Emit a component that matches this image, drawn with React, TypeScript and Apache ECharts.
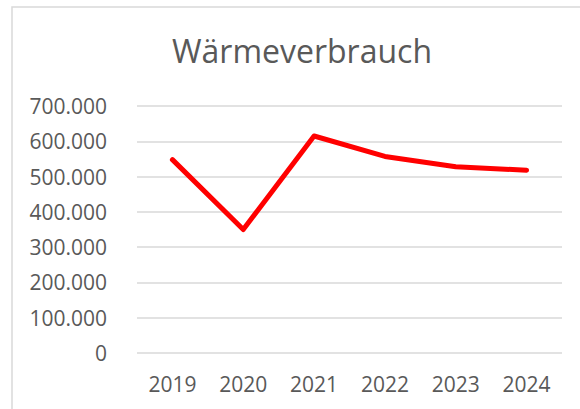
import React, { useEffect, useRef } from "react";
import * as echarts from "echarts";

const titleText = "Wärmeverbrauch";
const years = ["2019", "2020", "2021", "2022", "2023", "2024"];
const heatValues = [548000, 350000, 615000, 557000, 528000, 518000];

const fmt = (v: number) => String(Math.round(v)).replace(/\B(?=(\d{3})+(?!\d))/g, ".");

export default function App() {
  const ref = useRef<HTMLDivElement>(null);
  useEffect(() => {
    if (!ref.current) return;
    const chart = echarts.init(ref.current, null, { renderer: "svg" });
    chart.setOption({
      animation: false,
      backgroundColor: "#ffffff",
      textStyle: { fontFamily: "Open Sans" },
      graphic: [
        {
          type: "rect",
          shape: { x: 12, y: 7, width: 620, height: 430 },
          style: { fill: "none", stroke: "#d9d9d9", lineWidth: 1.5 },
          silent: true,
        },
        {
          type: "text",
          x: 302,
          y: 50,
          silent: true,
          style: {
            text: titleText,
            align: "center",
            verticalAlign: "middle",
            fontFamily: "Open Sans",
            fontSize: 32,
            fill: "#595959",
          },
        },
      ],
      grid: { left: 137, right: 18, top: 106, bottom: 56 },
      xAxis: {
        type: "category",
        data: years,
        boundaryGap: true,
        axisLine: { show: false },
        axisTick: { show: false },
        axisLabel: { color: "#595959", fontSize: 21, margin: 20, fontFamily: "Open Sans" },
      },
      yAxis: {
        type: "value",
        min: 0,
        max: 700000,
        interval: 100000,
        axisLine: { show: false },
        axisTick: { show: false },
        splitLine: { lineStyle: { color: "#d9d9d9", width: 1.5 } },
        axisLabel: { color: "#595959", fontSize: 21, margin: 30, fontFamily: "Open Sans", formatter: (v: number) => fmt(v) },
      },
      series: [
        {
          type: "line",
          data: heatValues,
          showSymbol: false,
          symbol: "none",
          lineStyle: { color: "#ff0000", width: 5, cap: "round", join: "round" },
        },
      ],
    });
    return () => chart.dispose();
  }, []);
  return <div ref={ref} style={{ position: "fixed", left: 0, top: 0, width: 580, height: 409 }} />;
}
